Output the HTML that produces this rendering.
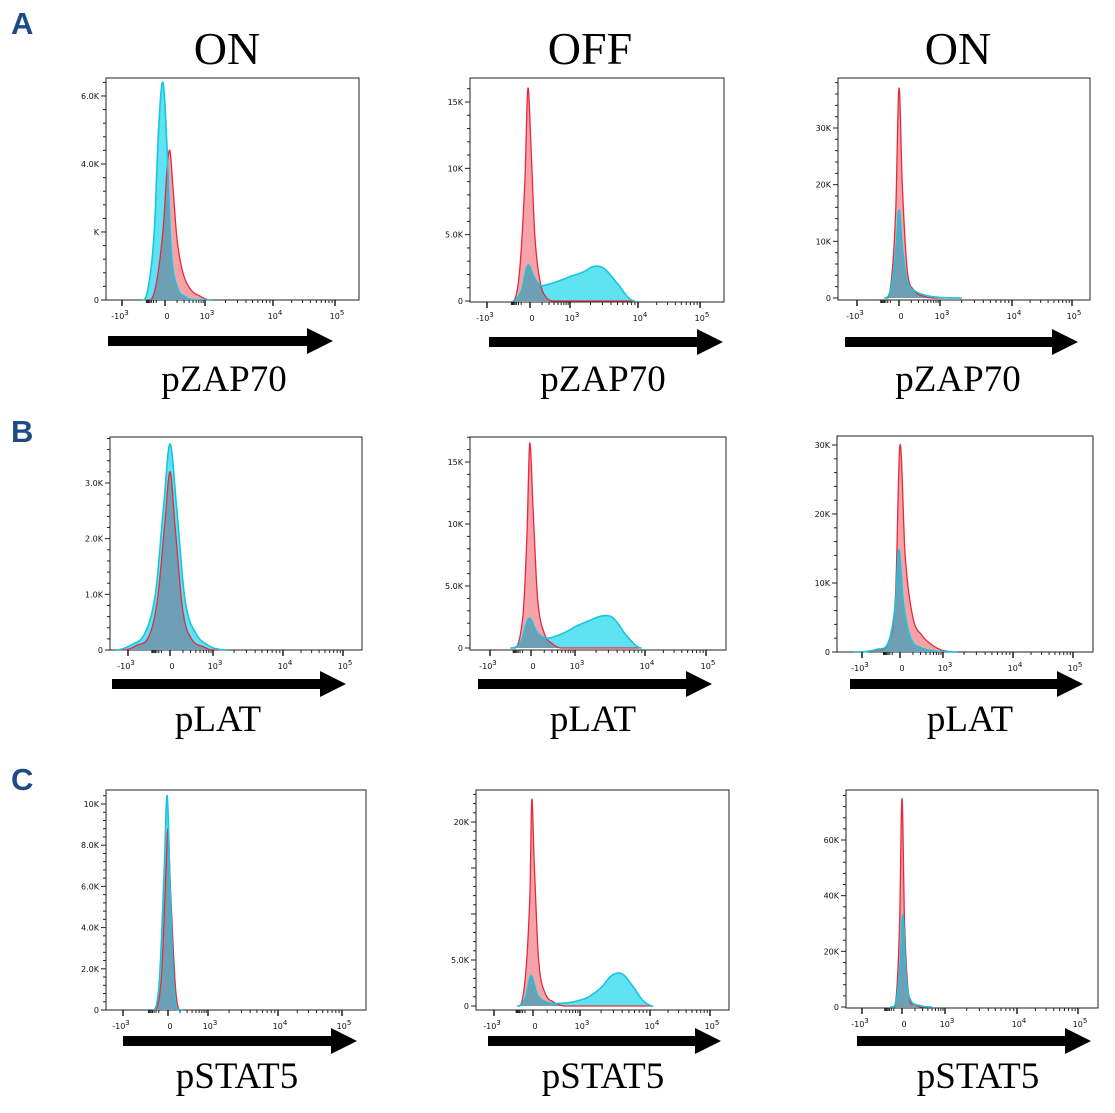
<!DOCTYPE html>
<html><head><meta charset="utf-8">
<style>
html,body{margin:0;padding:0;background:#fff;}
svg{display:block;}
.lbl{font-family:"Liberation Serif",serif;fill:#000;}
.tick{font-family:"DejaVu Sans","Liberation Sans",sans-serif;font-size:8px;fill:#111;}
.letter{font-family:"Liberation Sans",sans-serif;font-weight:bold;font-size:31px;fill:#1c4b86;}
</style></head>
<body>
<svg id="fig" width="1115" height="1113" viewBox="0 0 1115 1113" xmlns="http://www.w3.org/2000/svg">
<text class="letter" x="11" y="34">A</text>
<text class="letter" x="11" y="442">B</text>
<text class="letter" x="11" y="790">C</text>
<text class="lbl" x="227" y="64" font-size="46" text-anchor="middle">ON</text>
<text class="lbl" x="590" y="64" font-size="46" text-anchor="middle">OFF</text>
<text class="lbl" x="958" y="64" font-size="46" text-anchor="middle">ON</text>
<g id="panels"></g>
</svg>
<script>
// ---- data (x positions in display units: -1=-10^3, 0=0, 1=10^3, 2=10^4, 3=10^5) ----
const markers = ["pZAP70","pLAT","pSTAT5"];
const xTickLabels = ["-10","0","10","10","10"];
const xTickExps = ["3","","3","4","5"];
const xTickValues = [-1,0,1,2,3];

const a1YTicks=[0,2000,4000,6000], a1YLabels=["0","K","4.0K","6.0K"];
const a1RedPos=[-0.35,-0.2,-0.05,0.05,0.12,0.2,0.3,0.45,0.65,0.9,1.1];
const a1RedCnt=[0,500,2000,3800,4400,3300,1800,800,300,100,0];
const a1CyanPos=[-0.55,-0.4,-0.25,-0.15,-0.05,0.05,0.15,0.3,0.5,0.8];
const a1CyanCnt=[0,300,2000,5000,6400,4500,1500,400,100,0];

const a2YTicks=[0,5000,10000,15000], a2YLabels=["0","5.0K","10K","15K"];
const a2RedPos=[-0.4,-0.25,-0.12,-0.05,0.02,0.12,0.25,0.4,0.6];
const a2RedCnt=[0,2000,9000,16000,12000,5000,1500,300,0];
const a2CyanPos=[-0.4,-0.2,-0.05,0.1,0.25,0.5,0.8,1.0,1.2,1.35,1.5,1.7,1.85,1.95];
const a2CyanCnt=[0,800,2700,1800,1200,1300,1600,1850,2200,2600,2450,1300,300,0];

const a3YTicks=[0,10000,20000,30000], a3YLabels=["0","10K","20K","30K"];
const a3RedPos=[-0.35,-0.2,-0.08,0,0.08,0.2,0.35,0.6,0.9];
const a3RedCnt=[0,2000,15000,37000,20000,5000,1500,300,0];
const a3CyanPos=[-0.35,-0.2,-0.08,0,0.08,0.2,0.4,0.7,1.0,1.3];
const a3CyanCnt=[0,1500,8000,15500,9000,3000,1200,400,100,0];

const b1YTicks=[0,1000,2000,3000], b1YLabels=["0","1.0K","2.0K","3.0K"];
const b1RedPos=[-1.1,-0.8,-0.5,-0.3,-0.12,0,0.12,0.3,0.5,0.8,1.0];
const b1RedCnt=[0,80,250,900,2300,3200,2200,700,200,50,0];
const b1CyanPos=[-1.3,-0.9,-0.6,-0.35,-0.15,0,0.15,0.35,0.6,0.9,1.2];
const b1CyanCnt=[0,100,300,1000,2600,3700,2600,900,300,80,0];

const b2YTicks=[0,5000,10000,15000], b2YLabels=["0","5.0K","10K","15K"];
const b2RedPos=[-0.4,-0.2,-0.1,-0.03,0.05,0.15,0.3,0.5,0.7];
const b2RedCnt=[0,2500,9000,16500,11000,4000,1200,300,0];
const b2CyanPos=[-0.5,-0.25,-0.05,0.15,0.35,0.6,0.9,1.2,1.4,1.55,1.75,1.95];
const b2CyanCnt=[0,500,2400,1200,800,1000,1500,2200,2600,2400,900,0];

const b3YTicks=[0,10000,20000,30000], b3YLabels=["0","10K","20K","30K"];
const b3RedPos=[-1.2,-0.6,-0.3,-0.12,0,0.12,0.3,0.5,0.75,1.0,1.2];
const b3RedCnt=[0,300,1500,8000,30000,14000,5000,2500,1000,200,0];
const b3CyanPos=[-1.2,-0.6,-0.3,-0.12,-0.03,0.08,0.25,0.5,0.8,1.1];
const b3CyanCnt=[0,400,1500,7000,14800,7000,2000,600,150,0];

const c1YTicks=[0,2000,4000,6000,8000,10000], c1YLabels=["0","2.0K","4.0K","6.0K","8.0K","10K"];
const c1RedPos=[-0.3,-0.15,-0.05,0,0.07,0.2,0.35];
const c1RedCnt=[0,1500,6500,8800,5500,800,0];
const c1CyanPos=[-0.35,-0.2,-0.08,-0.02,0.05,0.15,0.3];
const c1CyanCnt=[0,1200,7000,10400,6000,1000,0];

const c2YTicks=[0,5000,20000], c2YLabels=["0","5.0K","20K"];
const c2RedPos=[-0.35,-0.2,-0.08,-0.03,0.03,0.12,0.25,0.45,0.7];
const c2RedCnt=[0,3000,12000,22500,15000,5000,1500,400,0];
const c2CyanPos=[-0.4,-0.2,-0.05,0.1,0.3,0.6,0.9,1.1,1.3,1.45,1.6,1.75,1.9,2.05];
const c2CyanCnt=[0,800,3300,1200,400,300,500,900,2000,3300,3500,2200,600,0];

const c3YTicks=[0,20000,40000,60000], c3YLabels=["0","20K","40K","60K"];
const c3RedPos=[-0.3,-0.15,-0.06,0,0.06,0.15,0.3,0.5];
const c3RedCnt=[0,3000,30000,75000,30000,5000,1000,0];
const c3CyanPos=[-0.3,-0.15,-0.05,0.02,0.1,0.2,0.4,0.7];
const c3CyanCnt=[0,2000,15000,33000,10000,2500,600,0];

// ---- layout ----
const panels=[
 {id:"a1",row:0,box:[106,78,359,300],xpx:[122,165,205,273,335],y0:300,yK:[6000,96],yt:a1YTicks,yl:a1YLabels,rp:a1RedPos,rc:a1RedCnt,cp:a1CyanPos,cc:a1CyanCnt,arrow:[108,333,341],lx:224,ly:391},
 {id:"a2",row:0,box:[470,78,724,302],xpx:[487,530,570,638,700],y0:301,yK:[15000,102],yt:a2YTicks,yl:a2YLabels,rp:a2RedPos,rc:a2RedCnt,cp:a2CyanPos,cc:a2CyanCnt,arrow:[489,723,342],lx:603,ly:391},
 {id:"a3",row:0,box:[838,78,1090,300],xpx:[857,899,940,1012,1072],y0:298,yK:[30000,128],yt:a3YTicks,yl:a3YLabels,rp:a3RedPos,rc:a3RedCnt,cp:a3CyanPos,cc:a3CyanCnt,arrow:[845,1078,342],lx:958,ly:391},
 {id:"b1",row:1,box:[110,437,362,650],xpx:[128,170,213,283,343],y0:650,yK:[3000,483],yt:b1YTicks,yl:b1YLabels,rp:b1RedPos,rc:b1RedCnt,cp:b1CyanPos,cc:b1CyanCnt,arrow:[112,346,684],lx:218,ly:731},
 {id:"b2",row:1,box:[470,437,726,650],xpx:[490,531,575,645,706],y0:648,yK:[15000,462],yt:b2YTicks,yl:b2YLabels,rp:b2RedPos,rc:b2RedCnt,cp:b2CyanPos,cc:b2CyanCnt,arrow:[478,712,684],lx:593,ly:731},
 {id:"b3",row:1,box:[837,436,1093,652],xpx:[862,900,943,1013,1073],y0:652,yK:[30000,445],yt:b3YTicks,yl:b3YLabels,rp:b3RedPos,rc:b3RedCnt,cp:b3CyanPos,cc:b3CyanCnt,arrow:[850,1083,684],lx:970,ly:731},
 {id:"c1",row:2,box:[106,790,366,1010],xpx:[123,168,208,278,342],y0:1010,yK:[10000,804],yt:c1YTicks,yl:c1YLabels,rp:c1RedPos,rc:c1RedCnt,cp:c1CyanPos,cc:c1CyanCnt,arrow:[123,357,1041],lx:237,ly:1088},
 {id:"c2",row:2,box:[476,790,729,1010],xpx:[494,533,580,650,710],y0:1006,yK:[20000,822],yt:c2YTicks,yl:c2YLabels,rp:c2RedPos,rc:c2RedCnt,cp:c2CyanPos,cc:c2CyanCnt,arrow:[488,721,1041],lx:603,ly:1088},
 {id:"c3",row:2,box:[846,790,1098,1008],xpx:[862,902,945,1017,1078],y0:1007,yK:[60000,840],yt:c3YTicks,yl:c3YLabels,rp:c3RedPos,rc:c3RedCnt,cp:c3CyanPos,cc:c3CyanCnt,arrow:[857,1091,1041],lx:978,ly:1088}
];
const NS="http://www.w3.org/2000/svg";
const root=document.getElementById("panels");
function mk(tag,attrs,parent){const e=document.createElementNS(NS,tag);for(const k in attrs)e.setAttribute(k,attrs[k]);(parent||root).appendChild(e);return e;}
// smooth (Catmull-Rom style) interpolation between the data points, clamped at 0
function interp(ps,cs,x){
  const n=ps.length;
  if(x<=ps[0]||x>=ps[n-1])return 0;
  let i=1;while(x>ps[i])i++;
  const x0=ps[i-1],x1=ps[i],h=x1-x0,t=(x-x0)/h;
  const y0=cs[i-1],y1=cs[i];
  const m=k=>{if(k<=0||k>=n-1)return 0;return (cs[k+1]-cs[k-1])/(ps[k+1]-ps[k-1]);};
  const m0=m(i-1)*h,m1=m(i)*h;
  const t2=t*t,t3=t2*t;
  const v=(2*t3-3*t2+1)*y0+(t3-2*t2+t)*m0+(-2*t3+3*t2)*y1+(t3-t2)*m1;
  return Math.max(0,Math.min(v,Math.max(y0,y1)*1.04));
}

panels.forEach(p=>{
  const g=mk("g",{});
  
  
  const [l,t,r,b]=p.box;
  const xScale=v=>{const k=xTickValues;let i=0;if(v<k[0])i=0;else if(v>=k[3])i=3;else{while(v>=k[i+1])i++;}return p.xpx[i]+(v-k[i])*(p.xpx[i+1]-p.xpx[i])/(k[i+1]-k[i]);};
  const yScale=c=>p.y0-c*(p.y0-p.yK[1])/p.yK[0];
  const fr=mk("rect",{x:l,y:t,width:r-l,height:b-t,fill:"#fff",stroke:"#222","stroke-width":1},g);
  
  
  const lo=Math.min(p.rp[0],p.cp[0]),hi=Math.max(p.rp[p.rp.length-1],p.cp[p.cp.length-1]);
  const N=400,xs=[];for(let i=0;i<=N;i++)xs.push(lo+(hi-lo)*i/N);
  const path=f=>"M"+xScale(lo)+","+p.y0+" "+xs.map(x=>"L"+xScale(x).toFixed(2)+","+yScale(f(x)).toFixed(2)).join(" ")+" L"+xScale(hi)+","+p.y0+"Z";
  const line=f=>"M"+xs.map(x=>xScale(x).toFixed(2)+","+yScale(f(x)).toFixed(2)).join(" L");
  const fr_=x=>interp(p.rp,p.rc,x),fc=x=>interp(p.cp,p.cc,x);
  const e1=mk("path",{d:path(fc),fill:"#5fe3f2"},g);
  
  
  const e2=mk("path",{d:path(fr_),fill:"#f5a3a8"},g);
  
  
  const e3=mk("path",{d:path(x=>Math.min(fr_(x),fc(x))),fill:"#6f9fb4"},g);
  
  
  const e4=mk("path",{d:line(fr_),fill:"none",stroke:"#e8283c","stroke-width":1.3},g);
  
  
  const e5=mk("path",{d:line(fc),fill:"none",stroke:"#17c6de","stroke-width":1.6},g);
  
  
  const step=p.yt[1]-p.yt[0];
  for(let v=0;yScale(v)>=t;v+=step/5){mk("line",{x1:l-(Math.abs(v%step)<1e-6?5:3),x2:l,y1:yScale(v),y2:yScale(v),stroke:"#222","stroke-width":1},g);}
  p.yt.forEach((v,i)=>{
    const tx=mk("text",{class:"tick",x:l-7,y:yScale(v)+3,"text-anchor":"end"},g);
    tx.textContent=p.yl[i];
    
    
  });
  const minor=[];
  for(const base of [0,1,2]){for(let k=2;k<=9;k++){minor.push(base+Math.log10(k));}}
  for(let k=2;k<=9;k++)minor.push(-Math.log10(k)*0.35-0.1);
  minor.forEach(v=>{const x=xScale(v);if(x>l&&x<r)mk("line",{x1:x,x2:x,y1:b,y2:b+3,stroke:"#222"},g);});
  xTickValues.forEach((v,i)=>{
    const x=xScale(v);mk("line",{x1:x,x2:x,y1:b,y2:b+6,stroke:"#111","stroke-width":1.4},g);
    const tx=mk("text",{class:"tick",x:x+(i===0?-2:2),y:b+19,"text-anchor":"middle"},g);
    
    
    tx.textContent=xTickLabels[i];
    if(xTickExps[i]){const s=mk("tspan",{dy:-4,"font-size":7},tx);s.textContent=xTickExps[i];}
  });
  const [ax0,ax1,ay]=p.arrow;
  const ar=mk("polygon",{points:`${ax0},${ay-5} ${ax1-26},${ay-5} ${ax1-26},${ay-13} ${ax1},${ay} ${ax1-26},${ay+13} ${ax1-26},${ay+5} ${ax0},${ay+5}`,fill:"#000"},g);
  
  
  const lt=mk("text",{class:"lbl",x:p.lx,y:p.ly,"font-size":37,"text-anchor":"middle"},g);
  lt.textContent=markers[p.row];
  
  
});
</script>
</body></html>
